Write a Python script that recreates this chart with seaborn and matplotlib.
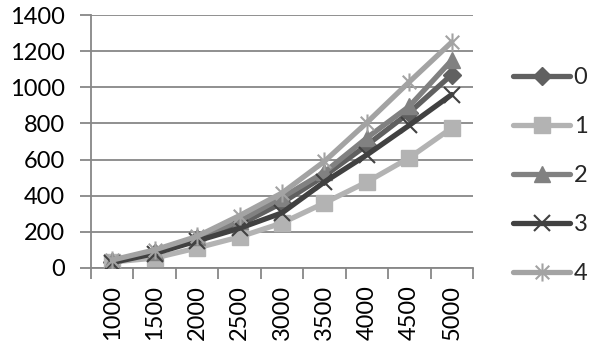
import numpy as np
import pandas as pd
import seaborn as sns
import matplotlib
matplotlib.use("Agg")
import matplotlib.pyplot as plt
from matplotlib.path import Path

sizes = ["1000", "1500", "2000", "2500", "3000", "3500", "4000", "4500", "5000"]
series_names = ["0", "1", "2", "3", "4"]
s0 = [35, 85, 160, 240, 360, 510, 680, 860, 1070]
s1 = [33, 55, 111, 172, 249, 360, 476, 610, 775]
s2 = [40, 90, 170, 260, 390, 530, 720, 895, 1150]
s3 = [30, 80, 150, 220, 305, 476, 626, 790, 960]
s4 = [44, 100, 175, 290, 415, 590, 805, 1030, 1250]
yticks = [0, 200, 400, 600, 800, 1000, 1200, 1400]

colors = ["#606060", "#b3b3b3", "#818181", "#414141", "#a3a3a3"]

# asterisk: vertical bar plus an x
asterisk = Path(
    [(0, -1), (0, 1), (-0.75, -0.75), (0.75, 0.75), (-0.75, 0.75), (0.75, -0.75)],
    [Path.MOVETO, Path.LINETO, Path.MOVETO, Path.LINETO, Path.MOVETO, Path.LINETO],
)
marker_styles = [
    dict(marker="D", markersize=9, markeredgewidth=1),
    dict(marker="s", markersize=11, markeredgewidth=1),
    dict(marker="^", markersize=11, markeredgewidth=1),
    dict(marker="x", markersize=11, markeredgewidth=1.5),
    dict(marker=asterisk, markersize=13, markeredgewidth=1.5),
]

records = []
for name, vals in zip(series_names, [s0, s1, s2, s3, s4]):
    for i, v in enumerate(vals):
        records.append({"pos": i, "size": sizes[i], "series": name, "value": v})
df = pd.DataFrame(records)

sns.set_theme(style="white")
plt.rcParams["font.family"] = ["Lato", "DejaVu Sans"]
FS = 17

fig = plt.figure(figsize=(5.96, 3.42), dpi=100)
ax = fig.add_axes([91 / 596, (342 - 268) / 342, (473 - 91) / 596, (268 - 15) / 342])

grid_c = "#878787"
for y in yticks:
    ax.axhline(y, color=grid_c, lw=1.3, zorder=0)

handles = []
for k, name in enumerate(series_names):
    sub = df[df["series"] == name]
    st = marker_styles[k]
    sns.lineplot(
        data=sub, x="pos", y="value", ax=ax, color=colors[k], lw=3.8,
        marker=st["marker"], markersize=st["markersize"],
        markeredgewidth=st["markeredgewidth"], markeredgecolor=colors[k],
        markerfacecolor=colors[k], solid_capstyle="round", zorder=2 + k,
        legend=False,
    )
    handles.append(ax.lines[-1])

ax.set_xlim(-0.5, len(sizes) - 0.5)
ax.set_ylim(0, 1400)
ax.set_yticks(yticks)
ax.set_yticklabels([str(t) for t in yticks], fontsize=FS, color="black")
ax.set_xticks(range(len(sizes)))
ax.set_xticklabels(sizes, rotation=90, fontsize=FS, color="black")
ax.set_xticks(np.arange(-0.5, len(sizes), 1.0), minor=True)
ax.tick_params(axis="x", which="major", length=0, pad=12)
ax.tick_params(axis="x", which="minor", length=8, width=1.3, color=grid_c, bottom=True)
ax.tick_params(axis="y", which="major", length=8, width=1.3, color=grid_c, left=True, pad=11)
ax.set_xlabel("")
ax.set_ylabel("")

for side in ["top", "right"]:
    ax.spines[side].set_visible(False)
ax.spines["left"].set_color(grid_c)
ax.spines["left"].set_linewidth(1.3)
ax.spines["bottom"].set_color(grid_c)
ax.spines["bottom"].set_linewidth(1.3)
ax.spines["left"].set_zorder(1)

leg = fig.legend(
    handles, series_names, loc="upper left", bbox_to_anchor=(504 / 596, 1 - 58 / 342),
    frameon=False, fontsize=FS, handlelength=2.4, handletextpad=0.15,
    labelspacing=1.18, borderaxespad=0,
)

fig.savefig("out.png", dpi=100)
